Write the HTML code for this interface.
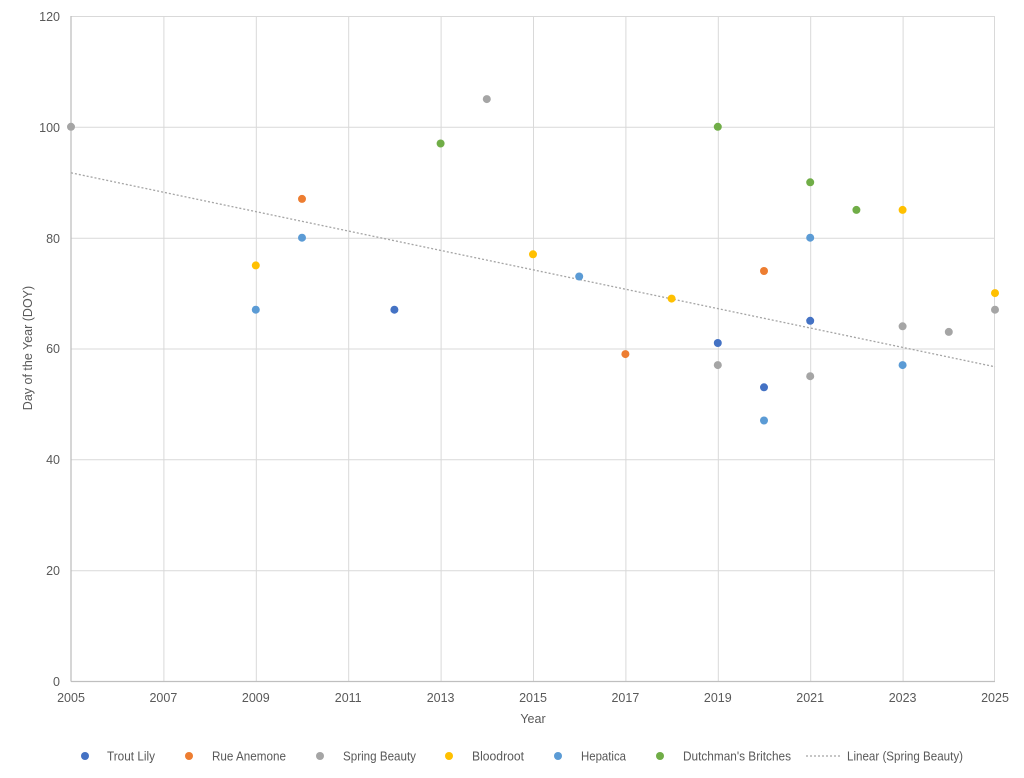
<!DOCTYPE html>
<html><head><meta charset="utf-8"><style>
html,body{margin:0;padding:0;background:#fff;}
svg{display:block;font-family:"Liberation Sans",Calibri,sans-serif;}
</style></head><body>
<svg width="1024" height="778" viewBox="0 0 1024 778" xmlns="http://www.w3.org/2000/svg">
<rect width="1024" height="778" fill="#fff"/>
<g stroke="#d9d9d9" stroke-width="1">
<line x1="71" y1="16.5" x2="995" y2="16.5"/>
<line x1="71" y1="127.3" x2="995" y2="127.3"/>
<line x1="71" y1="238.2" x2="995" y2="238.2"/>
<line x1="71" y1="349" x2="995" y2="349"/>
<line x1="71" y1="459.8" x2="995" y2="459.8"/>
<line x1="71" y1="570.7" x2="995" y2="570.7"/>
<line x1="163.9" y1="16" x2="163.9" y2="681"/>
<line x1="256.3" y1="16" x2="256.3" y2="681"/>
<line x1="348.7" y1="16" x2="348.7" y2="681"/>
<line x1="441.1" y1="16" x2="441.1" y2="681"/>
<line x1="533.5" y1="16" x2="533.5" y2="681"/>
<line x1="625.9" y1="16" x2="625.9" y2="681"/>
<line x1="718.3" y1="16" x2="718.3" y2="681"/>
<line x1="810.7" y1="16" x2="810.7" y2="681"/>
<line x1="903.1" y1="16" x2="903.1" y2="681"/>
<line x1="994.5" y1="16" x2="994.5" y2="681"/>
</g>
<g stroke="#bfbfbf" stroke-width="1.3">
<line x1="71" y1="16" x2="71" y2="681.5"/>
<line x1="71" y1="681.5" x2="995" y2="681.5"/>
</g>
<g fill="#595959" font-size="12.5" text-anchor="end">
<text x="60" y="21">120</text>
<text x="60" y="132">100</text>
<text x="60" y="243">80</text>
<text x="60" y="353">60</text>
<text x="60" y="464">40</text>
<text x="60" y="575">20</text>
<text x="60" y="686">0</text>
</g>
<g fill="#595959" font-size="12.5" text-anchor="middle">
<text x="71" y="702">2005</text>
<text x="163.4" y="702">2007</text>
<text x="255.8" y="702">2009</text>
<text x="348.2" y="702">2011</text>
<text x="440.6" y="702">2013</text>
<text x="533" y="702">2015</text>
<text x="625.4" y="702">2017</text>
<text x="717.8" y="702">2019</text>
<text x="810.2" y="702">2021</text>
<text x="902.6" y="702">2023</text>
<text x="995" y="702">2025</text>
<text x="533" y="723">Year</text>
<text x="0" y="0" transform="translate(32,348) rotate(-90)">Day of the Year (DOY)</text>
</g>
<line x1="71" y1="172.8" x2="995" y2="366.8" stroke="#a5a5a5" stroke-width="1.3" stroke-dasharray="2,2"/>
<g>
<g fill="#4472C4">
<circle cx="394.4" cy="309.7" r="4"/><circle cx="717.8" cy="343" r="4"/><circle cx="764" cy="387.3" r="4"/><circle cx="810.2" cy="320.8" r="4"/>
</g>
<g fill="#ED7D31">
<circle cx="302" cy="198.9" r="4"/><circle cx="625.4" cy="354.1" r="4"/><circle cx="764" cy="271" r="4"/>
</g>
<g fill="#A5A5A5">
<circle cx="71" cy="126.8" r="4"/><circle cx="486.8" cy="99.1" r="4"/><circle cx="717.8" cy="365.1" r="4"/><circle cx="810.2" cy="376.2" r="4"/><circle cx="902.6" cy="326.3" r="4"/><circle cx="948.8" cy="331.9" r="4"/><circle cx="995" cy="309.7" r="4"/>
</g>
<g fill="#FFC000">
<circle cx="255.8" cy="265.4" r="4"/><circle cx="533" cy="254.3" r="4"/><circle cx="671.6" cy="298.6" r="4"/><circle cx="902.6" cy="209.9" r="4"/><circle cx="995" cy="293.1" r="4"/>
</g>
<g fill="#5B9BD5">
<circle cx="255.8" cy="309.7" r="4"/><circle cx="302" cy="237.7" r="4"/><circle cx="579.2" cy="276.5" r="4"/><circle cx="764" cy="420.5" r="4"/><circle cx="810.2" cy="237.7" r="4"/><circle cx="902.6" cy="365.1" r="4"/>
</g>
<g fill="#70AD47">
<circle cx="440.6" cy="143.5" r="4"/><circle cx="717.8" cy="126.8" r="4"/><circle cx="810.2" cy="182.3" r="4"/><circle cx="856.4" cy="209.9" r="4"/>
</g>
</g>
<g font-size="12.5" fill="#595959">
<circle cx="85" cy="756" r="4" fill="#4472C4"/><text x="107" y="760.5" textLength="48" lengthAdjust="spacingAndGlyphs">Trout Lily</text>
<circle cx="189" cy="756" r="4" fill="#ED7D31"/><text x="212" y="760.5" textLength="74" lengthAdjust="spacingAndGlyphs">Rue Anemone</text>
<circle cx="320" cy="756" r="4" fill="#A5A5A5"/><text x="343" y="760.5" textLength="73" lengthAdjust="spacingAndGlyphs">Spring Beauty</text>
<circle cx="449" cy="756" r="4" fill="#FFC000"/><text x="472" y="760.5" textLength="52" lengthAdjust="spacingAndGlyphs">Bloodroot</text>
<circle cx="558" cy="756" r="4" fill="#5B9BD5"/><text x="581" y="760.5" textLength="45" lengthAdjust="spacingAndGlyphs">Hepatica</text>
<circle cx="660" cy="756" r="4" fill="#70AD47"/><text x="683" y="760.5" textLength="108" lengthAdjust="spacingAndGlyphs">Dutchman's Britches</text>
<line x1="806" y1="756" x2="840" y2="756" stroke="#a5a5a5" stroke-width="1.3" stroke-dasharray="2,2"/><text x="847" y="760.5" textLength="116" lengthAdjust="spacingAndGlyphs">Linear (Spring Beauty)</text>
</g>
</svg>
</body></html>
